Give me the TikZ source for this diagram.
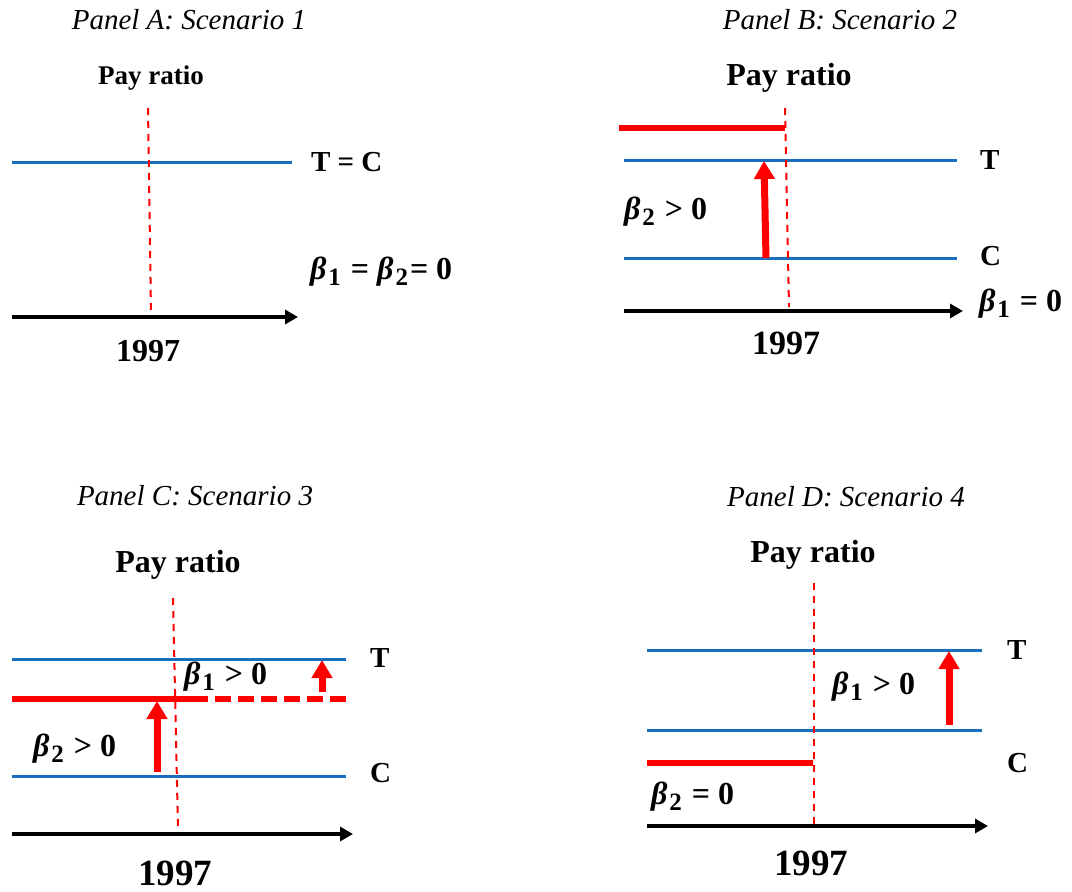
\documentclass[tikz,border=0pt]{standalone}
\usepackage{fontspec}
\setmainfont{Liberation Serif}
\usetikzlibrary{arrows.meta}
\definecolor{lineblue}{RGB}{24,110,192}
\definecolor{pred}{RGB}{255,0,0}
\newcommand{\bsym}[1]{{\bfseries\itshape β}\kern2pt\raisebox{-6pt}{\fontsize{25}{25}\selectfont\bfseries #1}\kern2pt\relax}
\tikzset{
  txt/.style={inner sep=0pt, outer sep=0pt},
  paneltitle/.style={txt, font=\fontsize{29}{34}\selectfont\itshape},
  payA/.style={txt, font=\fontsize{27}{32}\selectfont\bfseries},
  payB/.style={txt, font=\fontsize{32}{38}\selectfont\bfseries},
  lbl/.style={txt, anchor=west, font=\fontsize{29}{34}\selectfont\bfseries},
  blbl/.style={txt, anchor=west, font=\fontsize{32}{38}\selectfont\bfseries},
  yrA/.style={txt, font=\fontsize{32}{38}\selectfont\bfseries},
  yrB/.style={txt, font=\fontsize{37}{44}\selectfont\bfseries},
  yrM/.style={txt, font=\fontsize{34}{40}\selectfont\bfseries},
  blueline/.style={draw=lineblue, line width=3pt},
  timeaxis/.style={draw=black, line width=3.5pt, -{Triangle[width=14pt,length=13pt]}},
  cutline/.style={draw=pred, line width=2pt, dash pattern=on 7pt off 6pt},
  redlevel/.style={draw=pred, line width=5.5pt},
  reddash/.style={draw=pred, line width=5.5pt, dash pattern=on 16pt off 7pt},
  redarrow/.style={draw=pred, line width=7pt, -{Triangle[width=20pt,length=18pt]}},
}
\begin{document}
\begin{tikzpicture}[x=1pt,y=-1pt]
\useasboundingbox (0,0) rectangle (1072,892);
% ---------------- Panel A ----------------
\node[paneltitle] (tA) at (189,20) {Panel A: Scenario 1};
\node[payA] (pA) at (151,78) {Pay ratio};
\coordinate (bAl) at (12,162); \coordinate (bAr) at (292,162);
\draw[blueline] (bAl) -- (bAr);
\coordinate (vAt) at (148,108); \coordinate (vAb) at (151,313);
\draw[cutline] (vAt) -- (vAb);
\node[lbl] (TCA) at (311,162) {T = C};
\node[blbl] (betaA) at (310,272) {\bsym1 = \bsym2= 0};
\coordinate (xAl) at (12,317); \coordinate (xAr) at (298,317);
\draw[timeaxis] (xAl) -- (xAr);
\node[yrA] (yA) at (148,351) {1997};
% ---------------- Panel B ----------------
\node[paneltitle] (tB) at (840,20) {Panel B: Scenario 2};
\node[payB] (pB) at (789,78) {Pay ratio};
\coordinate (rBl) at (619,128); \coordinate (rBr) at (785,128);
\draw[redlevel] (rBl) -- (rBr);
\coordinate (bBTl) at (624,160); \coordinate (bBTr) at (957,160);
\coordinate (bBCl) at (624,258); \coordinate (bBCr) at (957,258);
\draw[blueline] (bBTl) -- (bBTr);
\draw[blueline] (bBCl) -- (bBCr);
\coordinate (vBt) at (785,108); \coordinate (vBb) at (789,307);
\draw[cutline] (vBt) -- (vBb);
\node[lbl] (TB) at (980,160) {T};
\node[lbl] (CB) at (980,256) {C};
\coordinate (aBs) at (766,258); \coordinate (aBe) at (764,161);
\draw[redarrow] (aBs) -- (aBe);
\node[blbl] (b2B) at (624,212) {\bsym2 > 0};
\coordinate (xBl) at (624,311); \coordinate (xBr) at (963,311);
\draw[timeaxis] (xBl) -- (xBr);
\node[blbl] (b1B) at (979,304) {\bsym1 = 0};
\node[yrM] (yB) at (786,343) {1997};
% ---------------- Panel C ----------------
\node[paneltitle] (tC) at (195,496) {Panel C: Scenario 3};
\node[payB] (pC) at (178,565) {Pay ratio};
\coordinate (bCTl) at (12,659); \coordinate (bCTr) at (346,659);
\coordinate (bCCl) at (12,776); \coordinate (bCCr) at (346,776);
\draw[blueline] (bCTl) -- (bCTr);
\draw[blueline] (bCCl) -- (bCCr);
\coordinate (rCl) at (12,699); \coordinate (rCm) at (192,699); \coordinate (rCr) at (346,699);
\draw[redlevel] (rCl) -- (rCm);
\draw[reddash] (rCm) -- (rCr);
\coordinate (vCt) at (173,598); \coordinate (vCb) at (178,830);
\draw[cutline] (vCt) -- (vCb);
\node[lbl] (TC) at (370,658) {T};
\node[lbl] (CC) at (370,773) {C};
\node[blbl] (b1C) at (184,677) {\bsym1 > 0};
\coordinate (aC1s) at (322,692); \coordinate (aC1e) at (322,660);
\draw[redarrow] (aC1s) -- (aC1e);
\coordinate (aC2s) at (157,772); \coordinate (aC2e) at (157,701);
\draw[redarrow] (aC2s) -- (aC2e);
\node[blbl] (b2C) at (33,749) {\bsym2 > 0};
\coordinate (xCl) at (12,834); \coordinate (xCr) at (353,834);
\draw[timeaxis] (xCl) -- (xCr);
\node[yrB] (yC) at (175,873) {1997};
% ---------------- Panel D ----------------
\node[paneltitle] (tD) at (846,497) {Panel D: Scenario 4};
\node[payB] (pD) at (813,555) {Pay ratio};
\coordinate (bDTl) at (647,650); \coordinate (bDTr) at (982,650);
\coordinate (bDCl) at (647,730); \coordinate (bDCr) at (982,730);
\draw[blueline] (bDTl) -- (bDTr);
\draw[blueline] (bDCl) -- (bDCr);
\coordinate (rDl) at (647,763); \coordinate (rDr) at (813,763);
\draw[redlevel] (rDl) -- (rDr);
\coordinate (vDt) at (814,583); \coordinate (vDb) at (814,829);
\draw[cutline] (vDt) -- (vDb);
\node[lbl] (TD) at (1007,650) {T};
\node[lbl] (CD) at (1007,763) {C};
\node[blbl] (b1D) at (832,687) {\bsym1 > 0};
\coordinate (aDs) at (949,725); \coordinate (aDe) at (949,651);
\draw[redarrow] (aDs) -- (aDe);
\node[blbl] (b2D) at (651,797) {\bsym2 = 0};
\coordinate (xDl) at (647,826); \coordinate (xDr) at (988,826);
\draw[timeaxis] (xDl) -- (xDr);
\node[yrB] (yD) at (811,863) {1997};
\end{tikzpicture}
\end{document}
